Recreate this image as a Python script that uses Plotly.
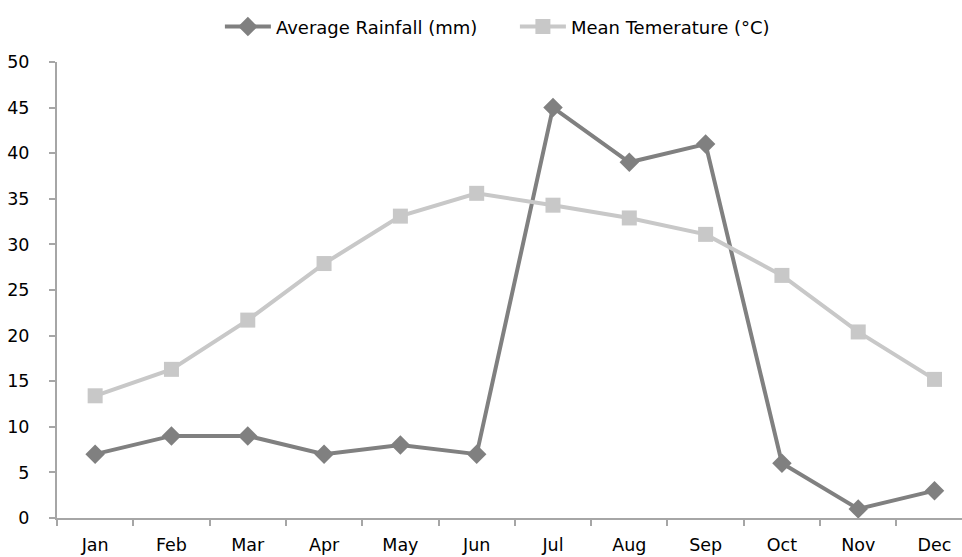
import plotly.graph_objects as go

months = ["Jan", "Feb", "Mar", "Apr", "May", "Jun", "Jul", "Aug", "Sep", "Oct", "Nov", "Dec"]
rainfall = [7, 9, 9, 7, 8, 7, 45, 39, 41, 6, 1, 3]
temperature = [13.4, 16.3, 21.7, 27.9, 33.1, 35.6, 34.3, 32.9, 31.1, 26.6, 20.4, 15.2]
y_ticks = [0, 5, 10, 15, 20, 25, 30, 35, 40, 45, 50]

FONT = "'DejaVu Sans', 'Open Sans', sans-serif"
FS = 17.5

fig = go.Figure()
fig.add_trace(go.Scatter(
    x=months, y=rainfall, name="Average Rainfall (mm)",
    mode="lines+markers",
    line=dict(color="#808080", width=4),
    marker=dict(symbol="diamond", size=15, color="#808080"),
))
fig.add_trace(go.Scatter(
    x=months, y=temperature, name="Mean Temerature (°C)",
    mode="lines+markers",
    line=dict(color="#c8c8c8", width=4),
    marker=dict(symbol="square", size=15, color="#c8c8c8"),
))

fig.update_layout(
    width=962, height=557,
    margin=dict(l=57, r=0, t=62, b=39, autoexpand=False),
    paper_bgcolor="white", plot_bgcolor="white",
    font=dict(family=FONT, size=FS, color="#000000"),
    showlegend=True,
    legend=dict(orientation="h", x=0.18, xanchor="left", y=1.077, yanchor="middle",
                font=dict(family=FONT, size=18), itemwidth=46, tracegroupgap=0,
                entrywidth=234),
    xaxis=dict(
        type="category", range=[-0.5, 11.36], automargin=False,
        showline=True, linecolor="#a6a6a6", linewidth=2,
        ticks="outside", tickson="boundaries", ticklen=6, tickcolor="#a6a6a6", tickwidth=2,
        showgrid=False, zeroline=False, ticklabelstandoff=10,
        tickfont=dict(family=FONT, size=FS),
    ),
    yaxis=dict(
        range=[0, 50], tickvals=y_ticks, automargin=False,
        showline=True, linecolor="#a6a6a6", linewidth=2,
        ticks="outside", ticklen=6, tickcolor="#a6a6a6", tickwidth=2,
        showgrid=False, zeroline=False, ticklabelstandoff=16,
        tickfont=dict(family=FONT, size=FS),
    ),
)

fig.write_html("out.html")
